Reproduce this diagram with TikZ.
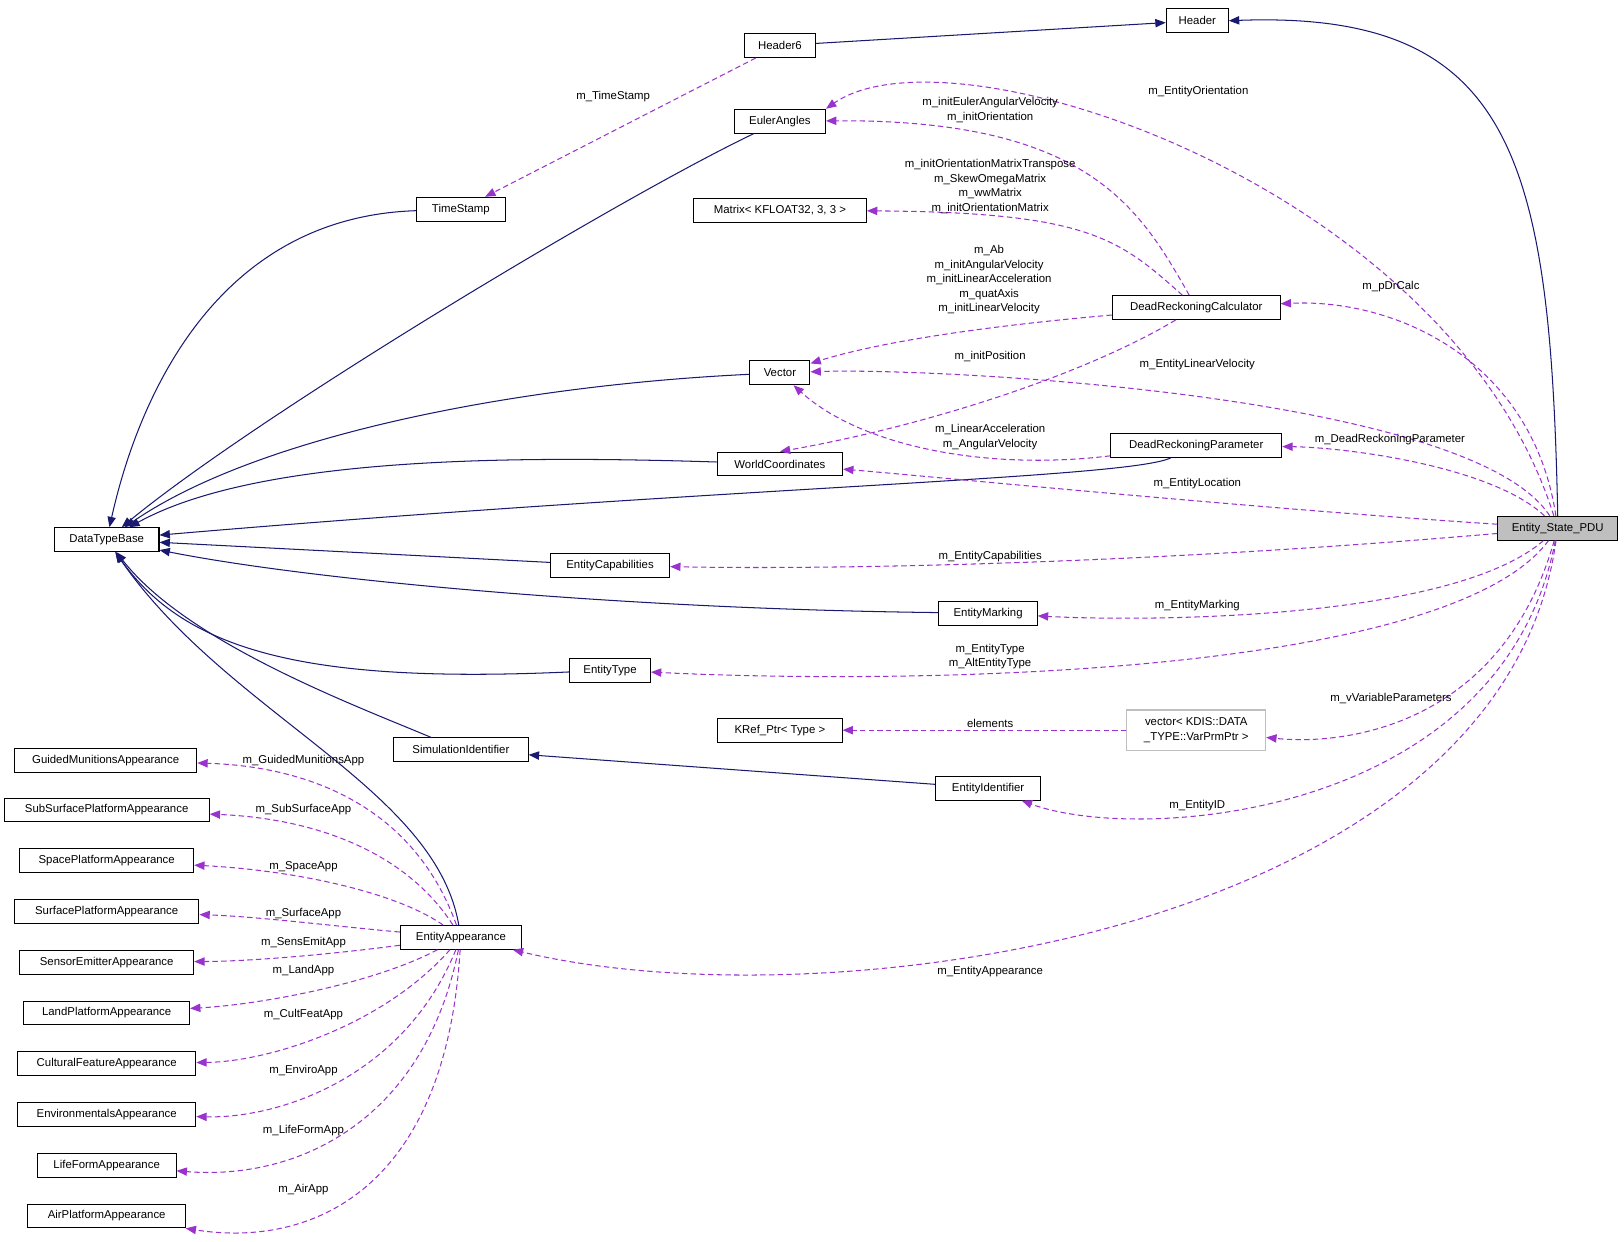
\documentclass[tikz,border=0pt]{standalone}
\usepackage{fontspec}
\setmainfont{Liberation Sans}
\usetikzlibrary{arrows.meta}
\definecolor{nv}{RGB}{25,25,112}
\definecolor{pu}{RGB}{154,50,205}
\definecolor{gr}{RGB}{191,191,191}
\begin{document}
\begin{tikzpicture}[x=0.5pt,y=-0.5pt,
  every node/.style={font=\fontsize{5.5}{7}\selectfont},
  box/.style={draw,line width=0.5pt,minimum height=11.5pt,inner sep=1pt},
  lab/.style={align=center,inner sep=0pt},
  inh/.style={nv,line width=0.5pt,-{Triangle[length=5pt,width=4pt]}},
  use/.style={pu,line width=0.5pt,dash pattern=on 2.6pt off 1.6pt,-{Triangle[length=5pt,width=4pt]}}]
\useasboundingbox (0,0) rectangle (1568,1199);
% nodes
\node[box,minimum width=30pt] (hdr) at (1156,20) {Header};
\node[box,minimum width=34pt] (h6) at (753,44) {Header6};
\node[box,minimum width=44pt] (ea) at (753,117) {EulerAngles};
\node[box,minimum width=43pt] (ts) at (445,202) {TimeStamp};
\node[box,minimum width=83.5pt] (mx) at (753,203) {Matrix< KFLOAT32, 3, 3 >};
\node[box,minimum width=81pt] (drc) at (1155,297) {DeadReckoningCalculator};
\node[box,minimum width=29pt] (vec) at (753,360) {Vector};
\node[box,minimum width=82.5pt] (drp) at (1155,430) {DeadReckoningParameter};
\node[box,minimum width=60.5pt] (wc) at (753,448) {WorldCoordinates};
\node[box,minimum width=50.5pt] (dtb) at (103,521) {DataTypeBase};
\node[box,minimum width=58pt,fill=gr] (pdu) at (1504,510) {Entity\_State\_PDU};
\node[box,minimum width=57.5pt] (ec) at (589,546) {EntityCapabilities};
\node[box,minimum width=47.5pt] (em) at (954,592) {EntityMarking};
\node[box,minimum width=39pt] (et) at (589,647) {EntityType};
\node[box,minimum width=60pt] (kr) at (753,705) {KRef\_Ptr< Type >};
\node[box,draw=gr,minimum width=67pt,minimum height=19.5pt,align=center] (vv) at (1155,705) {vector< KDIS::DATA\\\_TYPE::VarPrmPtr >};
\node[box,minimum width=65pt] (si) at (445,724) {SimulationIdentifier};
\node[box,minimum width=50.5pt] (eid) at (954,761) {EntityIdentifier};
\node[box,minimum width=58.5pt] (eap) at (445,905) {EntityAppearance};
\node[box,minimum width=88pt] (gm) at (102,734) {GuidedMunitionsAppearance};
\node[box,minimum width=99pt] (ss) at (103,782) {SubSurfacePlatformAppearance};
\node[box,minimum width=84pt] (sp) at (103,831) {SpacePlatformAppearance};
\node[box,minimum width=89pt] (su) at (103,880) {SurfacePlatformAppearance};
\node[box,minimum width=84pt] (se) at (103,929) {SensorEmitterAppearance};
\node[box,minimum width=80pt] (la) at (103,978) {LandPlatformAppearance};
\node[box,minimum width=86pt] (cf) at (103,1027) {CulturalFeatureAppearance};
\node[box,minimum width=86pt] (en) at (103,1076) {EnvironmentalsAppearance};
\node[box,minimum width=67pt] (lf) at (103,1125) {LifeFormAppearance};
\node[box,minimum width=76pt] (ap) at (103,1174) {AirPlatformAppearance};
% inheritance
\draw[inh] (pdu.north) .. controls (1497,150) and (1460,10) .. (hdr.east);
\draw[inh] (h6) -- (hdr);
\draw[inh] (ea) .. controls (600,190) and (250,400) .. (dtb);
\draw[inh] (ts) .. controls (200,210) and (130,400) .. (dtb);
\draw[inh] (vec) .. controls (500,372) and (250,420) .. (dtb);
\draw[inh] (wc) .. controls (500,440) and (250,440) .. (dtb);
\draw[inh] (drp) .. controls (1090,462) and (700,470) .. (dtb);
\draw[inh] (ec) -- (dtb);
\draw[inh] (em) .. controls (600,588) and (300,560) .. (dtb);
\draw[inh] (et) .. controls (300,660) and (180,630) .. (dtb);
\draw[inh] (si) .. controls (340,680) and (180,620) .. (dtb);
\draw[inh] (eap) .. controls (420,760) and (220,690) .. (dtb);
\draw[inh] (eid) -- (si);
% usage
\draw[use] (h6) -- (ts);
\draw[use] (pdu) .. controls (1400,180) and (920,20) .. (ea.north east);
\draw[use] (drc) .. controls (1100,200) and (1050,115) .. (ea);
\draw[use] (drc) .. controls (1080,230) and (1050,205) .. (mx);
\draw[use] (drc) .. controls (950,315) and (850,330) .. (vec);
\draw[use] (drc) .. controls (1050,360) and (900,410) .. (wc.north);
\draw[use] (drp) .. controls (950,455) and (830,430) .. (vec);
\draw[use] (pdu) .. controls (1480,350) and (1350,288) .. (drc);
\draw[use] (pdu) .. controls (1420,380) and (900,355) .. (vec);
\draw[use] (pdu) .. controls (1440,450) and (1300,432) .. (drp);
\draw[use] (pdu) .. controls (1200,490) and (900,460) .. (wc);
\draw[use] (pdu) .. controls (1100,545) and (800,550) .. (ec);
\draw[use] (pdu) .. controls (1400,600) and (1100,600) .. (em);
\draw[use] (pdu) .. controls (1400,650) and (900,662) .. (et);
\draw[use] (pdu) .. controls (1450,700) and (1300,720) .. (vv);
\draw[use] (vv) -- (kr);
\draw[use] (pdu) .. controls (1450,790) and (1100,815) .. (eid);
\draw[use] (pdu) .. controls (1450,900) and (800,990) .. (eap);
\draw[use] (eap) .. controls (400,780) and (300,740) .. (gm);
\draw[use] (eap) .. controls (390,820) and (300,790) .. (ss);
\draw[use] (eap) .. controls (380,860) and (280,840) .. (sp);
\draw[use] (eap) .. controls (330,895) and (250,885) .. (su);
\draw[use] (eap) .. controls (330,920) and (250,928) .. (se);
\draw[use] (eap) .. controls (360,950) and (250,970) .. (la);
\draw[use] (eap) .. controls (370,990) and (260,1025) .. (cf);
\draw[use] (eap) .. controls (390,1040) and (270,1080) .. (en);
\draw[use] (eap) .. controls (410,1080) and (290,1140) .. (lf);
\draw[use] (eap) .. controls (430,1150) and (300,1205) .. (ap);
% labels
\node[lab] (l1) at (592,93) {m\_TimeStamp};
\node[lab] (l2) at (1157,88) {m\_EntityOrientation};
\node[lab] (l3) at (956,106) {m\_initEulerAngularVelocity\\m\_initOrientation};
\node[lab] (l4) at (956,180) {m\_initOrientationMatrixTranspose\\m\_SkewOmegaMatrix\\m\_wwMatrix\\m\_initOrientationMatrix};
\node[lab] (l5) at (955,270) {m\_Ab\\m\_initAngularVelocity\\m\_initLinearAcceleration\\m\_quatAxis\\m\_initLinearVelocity};
\node[lab] (l6) at (956,344) {m\_initPosition};
\node[lab] (l7) at (956,422) {m\_LinearAcceleration\\m\_AngularVelocity};
\node[lab] (l8) at (1343,277) {m\_pDrCalc};
\node[lab] (l9) at (1156,352) {m\_EntityLinearVelocity};
\node[lab] (l10) at (1342,424) {m\_DeadReckoningParameter};
\node[lab] (l11) at (1156,467) {m\_EntityLocation};
\node[lab] (l12) at (956,537) {m\_EntityCapabilities};
\node[lab] (l13) at (1156,585) {m\_EntityMarking};
\node[lab] (l14) at (956,634) {m\_EntityType\\m\_AltEntityType};
\node[lab] (l15) at (1343,674) {m\_vVariableParameters};
\node[lab] (l16) at (956,698) {elements};
\node[lab] (l17) at (1156,778) {m\_EntityID};
\node[lab] (l18) at (956,938) {m\_EntityAppearance};
\node[lab] (l19) at (293,734) {m\_GuidedMunitionsApp};
\node[lab] (l20) at (293,782) {m\_SubSurfaceApp};
\node[lab] (l21) at (293,837) {m\_SpaceApp};
\node[lab] (l22) at (293,882) {m\_SurfaceApp};
\node[lab] (l23) at (293,910) {m\_SensEmitApp};
\node[lab] (l24) at (293,937) {m\_LandApp};
\node[lab] (l25) at (293,980) {m\_CultFeatApp};
\node[lab] (l26) at (293,1034) {m\_EnviroApp};
\node[lab] (l27) at (293,1092) {m\_LifeFormApp};
\node[lab] (l28) at (293,1149) {m\_AirApp};
\end{tikzpicture}
\end{document}
